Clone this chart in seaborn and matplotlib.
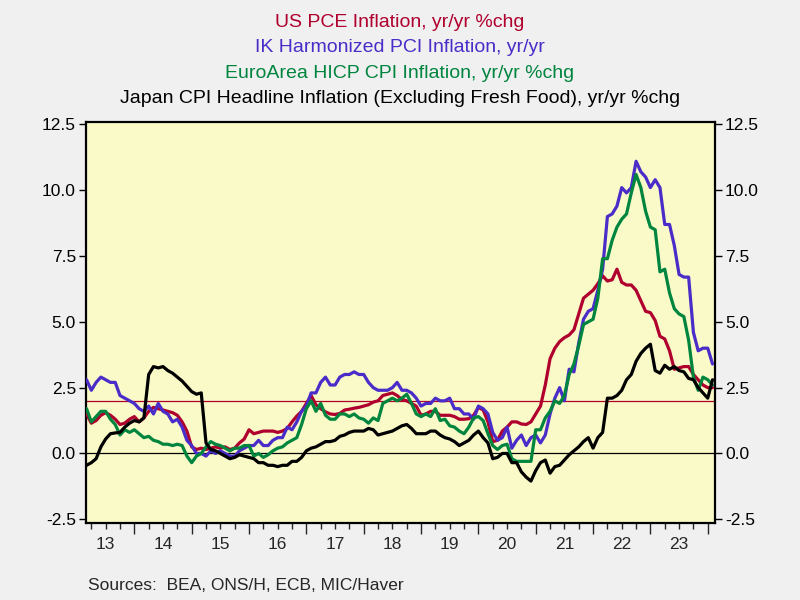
import pandas as pd
import matplotlib.pyplot as plt
import matplotlib.ticker as mticker
import seaborn as sns

# monthly, Mar 2013 .. Feb 2024
start_month = '2013-03-01'

us_pce = [
    1.5, 1.15, 1.25, 1.45, 1.55, 1.45, 1.3, 1.1, 1.15, 1.3,                # 2013
    1.4, 1.2, 1.35, 1.6, 1.75, 1.7, 1.65, 1.6, 1.55, 1.45, 1.2, 0.85,      # 2014
    0.25, 0.15, 0.2, 0.15, 0.2, 0.25, 0.2, 0.25, 0.15, 0.2, 0.4, 0.55,     # 2015
    0.9, 0.75, 0.8, 0.85, 0.85, 0.85, 0.8, 0.85, 0.95, 1.2, 1.42, 1.6,     # 2016
    1.9, 2.2, 1.85, 1.7, 1.58, 1.5, 1.48, 1.52, 1.65, 1.68, 1.72, 1.75,    # 2017
    1.8, 1.85, 1.95, 2.0, 2.2, 2.25, 2.3, 2.2, 2.05, 2.0, 1.9, 1.8,        # 2018
    1.45, 1.5, 1.6, 1.6, 1.45, 1.45, 1.45, 1.4, 1.3, 1.3, 1.32, 1.45,      # 2019
    1.75, 1.65, 1.2, 0.45, 0.5, 0.85, 1.0, 1.2, 1.2, 1.12, 1.1, 1.2,       # 2020
    1.5, 1.8, 2.6, 3.6, 4.0, 4.25, 4.4, 4.5, 4.7, 5.3, 5.9, 6.05,          # 2021
    6.2, 6.45, 6.75, 6.55, 6.6, 7.0, 6.5, 6.4, 6.4, 6.2, 5.8, 5.4,         # 2022
    5.35, 5.05, 4.45, 4.35, 3.9, 3.2, 3.25, 3.3, 3.3, 3.0, 2.8, 2.6,       # 2023
    2.5, 2.5,                                                              # 2024
]

uk_hicp = [
    2.8, 2.4, 2.7, 2.9, 2.8, 2.7, 2.7, 2.2, 2.1, 2.0,
    1.9, 1.7, 1.6, 1.8, 1.5, 1.9, 1.6, 1.5, 1.2, 1.3, 1.0, 0.5,
    0.3, 0.0, 0.0, -0.1, 0.1, 0.0, 0.1, 0.0, -0.1, -0.1, 0.1, 0.2,
    0.3, 0.3, 0.5, 0.3, 0.3, 0.5, 0.6, 0.6, 1.0, 0.9, 1.2, 1.6,
    1.8, 2.3, 2.3, 2.7, 2.9, 2.6, 2.6, 2.9, 3.0, 3.0, 3.1, 3.0,
    3.0, 2.7, 2.5, 2.4, 2.4, 2.4, 2.5, 2.7, 2.4, 2.4, 2.3, 2.1,
    1.8, 1.9, 1.9, 2.1, 2.0, 2.0, 2.1, 1.7, 1.7, 1.5, 1.5, 1.3,
    1.8, 1.7, 1.5, 0.8, 0.5, 0.6, 1.0, 0.2, 0.5, 0.7, 0.3, 0.6,
    0.7, 0.4, 0.7, 1.5, 2.1, 2.5, 2.0, 3.2, 3.1, 4.2, 5.1, 5.4,
    5.5, 6.2, 7.0, 9.0, 9.1, 9.4, 10.1, 9.9, 10.1, 11.1, 10.7, 10.5,
    10.1, 10.4, 10.1, 8.7, 8.7, 7.9, 6.8, 6.7, 6.7, 4.6, 3.9, 4.0,
    4.0, 3.4,
]

ea_hicp = [
    1.7, 1.2, 1.4, 1.6, 1.6, 1.3, 1.1, 0.7, 0.9, 0.8,
    0.9, 0.75, 0.6, 0.65, 0.5, 0.45, 0.35, 0.35, 0.3, 0.35, 0.3, -0.1,
    -0.35, -0.1, 0.0, 0.25, 0.45, 0.35, 0.3, 0.2, 0.1, 0.2, 0.2, 0.3,
    0.3, -0.1, 0.0, -0.15, -0.05, 0.1, 0.2, 0.25, 0.4, 0.5, 0.6, 1.1,
    1.7, 2.0, 1.6, 1.9, 1.45, 1.3, 1.3, 1.5, 1.5, 1.4, 1.5, 1.35,
    1.3, 1.15, 1.35, 1.25, 1.9, 2.0, 2.1, 2.0, 2.1, 2.25, 1.9, 1.5,
    1.4, 1.5, 1.4, 1.7, 1.25, 1.3, 1.05, 1.0, 0.85, 0.75, 1.0, 1.35,
    1.4, 1.25, 0.75, 0.3, 0.15, 0.3, 0.35, -0.2, -0.3, -0.3, -0.3, -0.3,
    0.9, 0.9, 1.35, 1.6, 2.0, 1.9, 2.2, 3.0, 3.4, 4.1, 4.9, 5.0,
    5.1, 5.9, 7.4, 7.4, 8.1, 8.6, 8.9, 9.1, 9.9, 10.6, 10.1, 9.2,
    8.6, 8.5, 6.9, 7.0, 6.1, 5.5, 5.3, 5.2, 4.3, 2.9, 2.4, 2.9,
    2.8, 2.6,
]

japan_core = [
    -0.45, -0.35, -0.2, 0.25, 0.55, 0.75, 0.78, 0.8, 1.0, 1.15,
    1.25, 1.2, 1.35, 3.0, 3.3, 3.25, 3.3, 3.15, 3.05, 2.9, 2.75, 2.55,
    2.35, 2.25, 2.3, 0.4, 0.15, 0.1, 0.0, -0.1, -0.2, -0.15, -0.05, -0.1,
    -0.15, -0.2, -0.35, -0.35, -0.45, -0.45, -0.5, -0.45, -0.45, -0.3, -0.3, -0.15,
    0.1, 0.2, 0.25, 0.35, 0.45, 0.45, 0.5, 0.65, 0.7, 0.8, 0.85, 0.85,
    0.85, 0.95, 0.9, 0.7, 0.75, 0.8, 0.85, 0.95, 1.05, 1.1, 0.95, 0.75,
    0.75, 0.75, 0.85, 0.85, 0.7, 0.6, 0.55, 0.45, 0.3, 0.4, 0.5, 0.7,
    0.85, 0.6, 0.4, -0.2, -0.15, 0.0, 0.0, -0.35, -0.35, -0.7, -0.9, -1.05,
    -0.65, -0.35, -0.25, -0.75, -0.5, -0.45, -0.25, -0.05, 0.1, 0.25, 0.45, 0.6,
    0.2, 0.6, 0.8, 2.1, 2.1, 2.2, 2.4, 2.8, 3.0, 3.5, 3.8, 4.0,
    4.15, 3.15, 3.05, 3.35, 3.2, 3.3, 3.15, 3.1, 2.85, 2.8, 2.5, 2.3,
    2.1, 2.8,
]

series_names = [
    'US PCE Inflation, yr/yr %chg',
    'IK Harmonized PCI Inflation, yr/yr',
    'EuroArea HICP CPI Inflation, yr/yr %chg',
    'Japan CPI Headline Inflation (Excluding Fresh Food), yr/yr %chg',
]
colors = ['#b0002e', '#4a2cc8', '#00853f', '#000000']
year_labels = ['13', '14', '15', '16', '17', '18', '19', '20', '21', '22', '23']

dates = pd.date_range(start_month, periods=len(us_pce), freq='MS')
t = dates.year + (dates.month - 1) / 12.0

df = pd.concat([
    pd.DataFrame({'t': t, 'value': vals, 'series': name})
    for name, vals in zip(series_names, [us_pce, uk_hicp, ea_hicp, japan_core])
])

sns.set_style('ticks')
plt.rcParams['font.family'] = ['Liberation Sans', 'DejaVu Sans']

fig = plt.figure(figsize=(8, 6), dpi=100, facecolor='#f0f0f0')
ax = fig.add_axes([0.107, 0.128, 0.787, 0.669])
ax.set_facecolor('#fafac8')

ax.axhline(0, color='black', lw=0.9, zorder=1)
ax.axhline(2.0, color='#b0002e', lw=0.9, zorder=1)

sns.lineplot(data=df, x='t', y='value', hue='series', hue_order=series_names,
             palette=colors, linewidth=2.3, legend=False, ax=ax, zorder=3)

ax.set_xlim(2013.15, 2024.13)
ax.set_ylim(-2.65, 12.6)
ax.set_xlabel('')
ax.set_ylabel('')

ax.yaxis.set_major_locator(mticker.MultipleLocator(2.5))
ax.yaxis.set_major_formatter(mticker.FormatStrFormatter('%.1f'))
ax.tick_params(axis='y', which='major', direction='out', length=5, width=1,
               left=True, right=True, labelleft=True, labelright=True,
               labelsize=12.5, colors='black', pad=2)

ax.xaxis.set_major_locator(mticker.FixedLocator(range(2014, 2025)))
ax.xaxis.set_minor_locator(mticker.MultipleLocator(0.25))
ax.xaxis.set_major_formatter(mticker.NullFormatter())
ax.tick_params(axis='x', which='major', direction='out', length=8, width=1)
ax.tick_params(axis='x', which='minor', direction='out', length=4, width=1)

sec = ax.secondary_xaxis('bottom')
sec.set_xticks([2013.5 + i for i in range(len(year_labels))])
sec.set_xticklabels(year_labels)
sec.tick_params(length=0, pad=10, labelsize=12.5)
sec.spines['bottom'].set_visible(False)

for s in ax.spines.values():
    s.set_visible(True)
    s.set_color('black')
    s.set_linewidth(1.6)

title_y = [0.963, 0.921, 0.878, 0.836]
for name, c, y in zip(series_names, colors, title_y):
    fig.text(0.5, y, name, ha='center', va='center', color=c, fontsize=14)

fig.text(0.11, 0.025, 'Sources:  BEA, ONS/H, ECB, MIC/Haver', ha='left',
         va='center', fontsize=12.5)

fig.savefig('out.png', dpi=100, facecolor=fig.get_facecolor())
